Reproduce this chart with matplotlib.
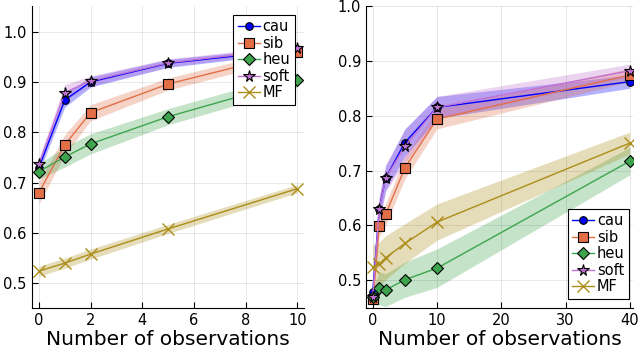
import numpy as np
import matplotlib.pyplot as plt

# left panel: 0..10 observations
x_left = np.array([0, 1, 2, 5, 10])
cau_left = np.array([0.730, 0.864, 0.900, 0.937, 0.965])
sib_left = np.array([0.680, 0.775, 0.839, 0.896, 0.960])
heu_left = np.array([0.722, 0.751, 0.777, 0.831, 0.904])
soft_left = np.array([0.737, 0.879, 0.902, 0.938, 0.968])
mf_left = np.array([0.524, 0.540, 0.558, 0.608, 0.688])
cau_left_err = np.array([0.010, 0.014, 0.010, 0.008, 0.006])
sib_left_err = np.array([0.022, 0.020, 0.016, 0.012, 0.010])
heu_left_err = np.array([0.015, 0.020, 0.020, 0.016, 0.015])
soft_left_err = np.array([0.012, 0.016, 0.010, 0.008, 0.006])
mf_left_err = np.array([0.010, 0.010, 0.010, 0.009, 0.008])

# right panel: 0..40 observations
x_right = np.array([0, 1, 2, 5, 10, 40])
cau_right = np.array([0.479, 0.630, 0.686, 0.751, 0.815, 0.862])
sib_right = np.array([0.465, 0.599, 0.620, 0.705, 0.794, 0.874])
heu_right = np.array([0.470, 0.485, 0.482, 0.501, 0.522, 0.717])
soft_right = np.array([0.470, 0.629, 0.686, 0.744, 0.815, 0.882])
mf_right = np.array([0.524, 0.529, 0.541, 0.567, 0.606, 0.750])
cau_right_err = np.array([0.010, 0.020, 0.022, 0.025, 0.020, 0.012])
sib_right_err = np.array([0.010, 0.020, 0.020, 0.020, 0.018, 0.012])
heu_right_err = np.array([0.015, 0.030, 0.030, 0.032, 0.035, 0.025])
soft_right_err = np.array([0.015, 0.025, 0.025, 0.030, 0.020, 0.012])
mf_right_err = np.array([0.040, 0.040, 0.040, 0.036, 0.033, 0.020])

labels = ["cau", "sib", "heu", "soft", "MF"]
colors = ["#0000ff", "#e26f46", "#3da44d", "#c271d2", "#ac8d18"]
markers = ["o", "s", "D", "*", "x"]
msizes = [5.5, 7.5, 6.5, 8.5, 8]

fig = plt.figure(figsize=(6.4, 3.52), dpi=100)
ax1 = fig.add_axes([0.0495, 0.126, 0.426, 0.857])
ax2 = fig.add_axes([0.572, 0.126, 0.417, 0.857])


def draw(ax, x, ys, errs):
    for y, e, lab, c, m, ms in zip(ys, errs, labels, colors, markers, msizes):
        ax.fill_between(x, y - e, y + e, color=c, alpha=0.3, lw=0)
        if m == "x":
            ax.plot(x, y, color=c, marker=m, ms=ms, mew=1.0, lw=1.0, label=lab)
        else:
            ax.plot(x, y, color=c, marker=m, ms=ms, mfc=c, mec="black",
                    mew=0.8, lw=1.0, label=lab)
    ax.grid(True, color="black", alpha=0.1, lw=0.6)
    ax.spines["top"].set_visible(False)
    ax.spines["right"].set_visible(False)
    ax.tick_params(direction="in", labelsize=10.5, length=4)
    ax.set_xlabel("Number of observations", fontsize=14.5, labelpad=2)


draw(ax1, x_left, [cau_left, sib_left, heu_left, soft_left, mf_left],
     [cau_left_err, sib_left_err, heu_left_err, soft_left_err, mf_left_err])
draw(ax2, x_right, [cau_right, sib_right, heu_right, soft_right, mf_right],
     [cau_right_err, sib_right_err, heu_right_err, soft_right_err, mf_right_err])

ax1.set_xlim(-0.28, 10.27)
ax1.set_ylim(0.4515, 1.051)
ax1.set_xticks([0, 2, 4, 6, 8, 10])
ax1.set_yticks([0.5, 0.6, 0.7, 0.8, 0.9, 1.0])

ax2.set_xlim(-1.04, 40.5)
ax2.set_ylim(0.45, 1.0)
ax2.set_xticks([0, 10, 20, 30, 40])
ax2.set_yticks([0.5, 0.6, 0.7, 0.8, 0.9, 1.0])

for ax, loc, anchor in [(ax1, "upper right", (0.965, 0.97)),
                        (ax2, "lower right", (0.985, 0.03))]:
    leg = ax.legend(loc=loc, bbox_to_anchor=anchor, fontsize=10.5,
                    fancybox=False, framealpha=1, edgecolor="black",
                    handlelength=1.5, handletextpad=0.2, labelspacing=0.1,
                    borderpad=0.3, borderaxespad=0)
    leg.get_frame().set_linewidth(0.8)

fig.savefig("out.png", dpi=100)
